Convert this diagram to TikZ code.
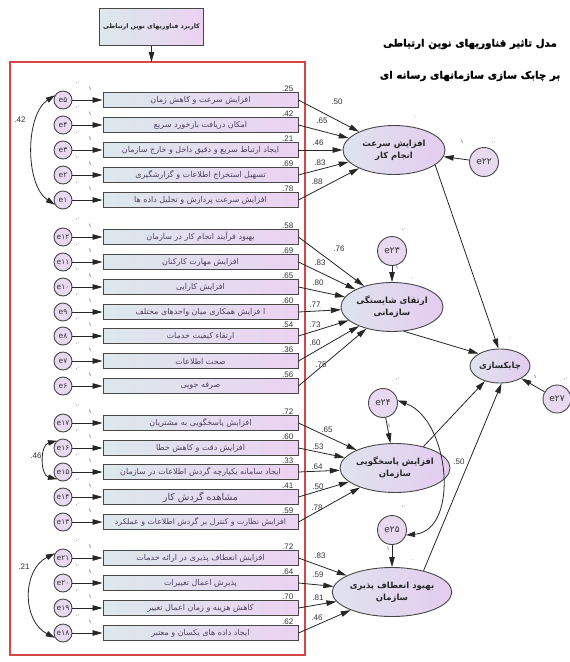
\documentclass[tikz,border=0pt]{standalone}
\usepackage{fontspec}
\setmainfont{Liberation Sans}
\newfontfamily\arabicfont[Script=Arabic]{DejaVu Sans}
\newfontfamily\titlefont[Script=Arabic,BoldFeatures={FakeBold=1.6}]{DejaVu Sans}
\TeXXeTstate=1
\usetikzlibrary{arrows.meta,shapes.geometric}
\definecolor{boxL}{HTML}{DCE8EC}
\definecolor{boxR}{HTML}{EBD2F2}
\definecolor{ellL}{HTML}{DFE3EE}
\definecolor{ellR}{HTML}{E4CCEF}
\definecolor{circ}{HTML}{E8D8F0}
\definecolor{edgec}{HTML}{474747}
\definecolor{redb}{HTML}{D64548}
\definecolor{txt}{HTML}{4E4060}
\tikzset{
  ind/.style={draw=edgec, line width=0.9pt, left color=boxL, right color=boxR,
    minimum width=195pt, minimum height=15pt, inner sep=0pt,
    font=\arabicfont\fontsize{8}{9}\selectfont, text=txt},
  err/.style={circle, draw=edgec, line width=0.9pt, fill=circ, minimum size=18pt, inner sep=0pt,
    path picture={\node[font=\fontsize{7.5}{8}\selectfont, text=black!80] at (path picture bounding box.center) {\arabicfont #1};}},
  bigerr/.style={circle, draw=edgec, line width=0.9pt, fill=circ, minimum size=29pt, inner sep=0pt,
    font=\arabicfont\fontsize{9}{10}\selectfont, text=black!80},
  lat/.style={ellipse, draw=edgec, line width=0.9pt, left color=ellL, right color=ellR,
    minimum width=102pt, minimum height=49pt, inner sep=0pt, align=center,
    font=\arabicfont\bfseries\fontsize{8.5}{12}\selectfont, text=black!85},
  arr/.style={-{Triangle[length=10pt,width=5.5pt]}, line width=0.8pt, black!85},
  darr/.style={{Triangle[length=9pt,width=5.5pt]}-{Triangle[length=9pt,width=5.5pt]}, line width=0.8pt, black!85},
  lab/.style={font=\fontsize{8}{9}\selectfont, text=black!80, inner sep=0.5pt},
  onelab/.style={font=\arabicfont\fontsize{5.5}{6}\selectfont, text=black!80, inner sep=0pt},
  dotlab/.style={font=\arabicfont\fontsize{5}{6}\selectfont, text=black!70, inner sep=0pt},
  ttl/.style={font=\titlefont\bfseries\fontsize{10.3}{12}\selectfont, inner sep=0pt},
}
% name, y, text, r2, errname, errlabel
\newcommand{\indrow}[6]{%
  \node[ind] (#1) at (200.5,#2) {#3};
  \node[lab, anchor=south east] at (294,#2-7.5) {#4};
  \node[err={#6}] (#5) at (63,#2) {};
  \draw[arr] (#5) -- (#1.west);
  \node[onelab] at (90,#2-11) {۱};
  \node[dotlab] at (77,#2-17) {\beginR ۰، \endR};
}
\begin{document}
\begin{tikzpicture}[x=1pt,y=-1pt]
\useasboundingbox (0,0) rectangle (570,662);
\fill[white] (0,0) rectangle (570,662);

% title
\node[ttl] (t1) at (470,44) {\beginR مدل تاثیر فناوریهای نوین ارتباطی\endR};
\node[ttl] (t2) at (470,76) {\beginR بر چابک سازی سازمانهای رسانه ای\endR};

% top box and frame
\node[draw=edgec, line width=0.9pt, left color=boxL, right color=boxR, minimum width=103pt, minimum height=37pt,
  font=\arabicfont\bfseries\fontsize{6.3}{7}\selectfont, text=black!85] (top) at (151.5,27) {\beginR کاربرد فناوریهای نوین ارتباطی\endR};
\draw[redb, line width=1.2pt] (10,62) rectangle (305,655);
\coordinate (redtop) at (151.5,62);
\draw[arr] (top) -- (redtop);

% latent variables
\node[lat] (L1) at (394,150) {\beginR افزایش سرعت\endR\\\beginR انجام کار\endR};
\node[lat] (L2) at (392,307) {\beginR ارتقای شایستگی\endR\\\beginR سازمانی\endR};
\node[lat] (L3) at (395,468) {\beginR افزایش پاسخگویی\endR\\\beginR سازمان\endR};
\node[lat] (L4) at (392,592) {\beginR بهبود انعطاف پذیری\endR\\\beginR سازمان\endR};
\node[lat, minimum width=60pt, minimum height=34pt] (Ag) at (500,366) {\beginR چابکسازی\endR};

\node[bigerr] (e22) at (484,162) {e۲۲};
\node[bigerr] (e23) at (392,251) {e۲۳};
\node[bigerr] (e24) at (383,403) {e۲۴};
\node[bigerr] (e25) at (392,530) {e۲۵};
\node[bigerr, minimum size=28pt] (e27) at (557,399) {e۲۷};

% group 1
\indrow{a1}{100}{\beginR افزایش سرعت و کاهش زمان\endR}{.25}{e5}{e۵}
\indrow{a2}{125}{\beginR امکان دریافت بازخورد سریع\endR}{.42}{e4}{e۴}
\indrow{a3}{150}{\beginR ایجاد ارتباط سریع و دقیق داخل و خارج سازمان\endR}{.21}{e3}{e۳}
\indrow{a4}{175}{\beginR تسهیل استخراج اطلاعات و گزارشگیری\endR}{.69}{e2}{e۲}
\indrow{a5}{200}{\beginR افزایش سرعت پردازش و تحلیل داده ها\endR}{.78}{e1}{e۱}
% group 2
\indrow{b1}{237}{\beginR بهبود فرآیند انجام کار در سازمان\endR}{.58}{e12}{e۱۲}
\indrow{b2}{262}{\beginR افزایش مهارت کارکنان\endR}{.69}{e11}{e۱۱}
\indrow{b3}{287}{\beginR افزایش کارایی\endR}{.65}{e10}{e۱۰}
\indrow{b4}{312}{\beginR ا فزایش همکاری میان واحدهای مختلف\endR}{.60}{e9}{e۹}
\indrow{b5}{336}{\beginR ارتقاء کیفیت خدمات\endR}{.54}{e8}{e۸}
\indrow{b6}{361}{\beginR صحت اطلاعات\endR}{.36}{e7}{e۷}
\indrow{b7}{386}{\beginR صرفه جویی\endR}{.56}{e6}{e۶}
% group 3
\indrow{c1}{423}{\beginR افزایش پاسخگویی به مشتریان\endR}{.72}{e17}{e۱۷}
\indrow{c2}{448}{\beginR افزایش دقت و کاهش خطا\endR}{.60}{e16}{e۱۶}
\indrow{c3}{472}{\beginR ایجاد سامانه یکپارچه گردش اطلاعات در سازمان\endR}{.33}{e15}{e۱۵}
\indrow{c4}{497}{\fontsize{9.5}{10}\selectfont\beginR مشاهده گردش کار\endR}{.41}{e14}{e۱۴}
\indrow{c5}{522}{\fontsize{7.8}{9}\selectfont\beginR افزایش نظارت و کنترل بر گردش اطلاعات و عملکرد\endR}{.59}{e13}{e۱۳}
% group 4
\indrow{d1}{558}{\beginR افزایش انعطاف پذیری در ارائه خدمات\endR}{.72}{e21}{e۲۱}
\indrow{d2}{583}{\beginR پذیرش اعمال تغییرات\endR}{.64}{e20}{e۲۰}
\indrow{d3}{608}{\beginR کاهش هزینه و زمان اعمال تغییر\endR}{.70}{e19}{e۱۹}
\indrow{d4}{633}{\beginR ایجاد داده های یکسان و معتبر\endR}{.62}{e18}{e۱۸}

% loadings
\foreach \n/\l in {a1/L1,a2/L1,a3/L1,a4/L1,a5/L1,b1/L2,b2/L2,b3/L2,b4/L2,b5/L2,b6/L2,b7/L2,
  c1/L3,c2/L3,c3/L3,c4/L3,c5/L3,d1/L4,d2/L4,d3/L4,d4/L4}
  \draw[arr] (\n.east) -- (\l);
\node[lab] at (337,102) {.50};
\node[lab] at (322,121) {.65};
\node[lab] at (318,143) {.46};
\node[lab] at (320,163) {.83};
\node[lab] at (317,182) {.88};
\node[lab] at (339,249) {.76};
\node[lab] at (320,263) {.83};
\node[lab] at (318,283) {.80};
\node[lab] at (315,305) {.77};
\node[lab] at (315,325) {.73};
\node[lab] at (315,343) {.60};
\node[lab] at (321,365) {.75};
\node[lab] at (327,430) {.65};
\node[lab] at (318,447) {.53};
\node[lab] at (317,467) {.64};
\node[lab] at (318,487) {.50};
\node[lab] at (317,508) {.78};
\node[lab] at (320,556) {.83};
\node[lab] at (318,575) {.59};
\node[lab] at (318,598) {.81};
\node[lab] at (317,618) {.46};

% covariances among errors
\draw[darr] (e5.150) .. controls (25,115) and (25,185) .. (e1.210);
\node[lab] at (20,120) {.42};
\draw[darr] (e16.130) .. controls (40,445) and (40,475) .. (e15.230);
\node[lab] at (36,456) {.46};
\draw[darr] (e21.150) .. controls (22,570) and (22,621) .. (e18.210);
\node[lab] at (24,567) {.21};

% structural paths
\draw[arr] (L1.-20) -- (Ag.95);
\draw[arr] (L2.-64) -- (Ag.150);
\draw[arr] (L3.37) -- (Ag.-135);
\draw[arr] (L4.34) -- (Ag.-85);
\draw[arr] (e22) -- (L1);
\draw[arr] (e23) -- (L2);
\draw[arr] (e24) -- (L3);
\draw[arr] (e25) -- (L4);
\draw[arr] (e27) -- (Ag);
\draw[darr] (e24.10) .. controls (450,420) and (460,530) .. (e25.-20);
\node[lab] at (459,462) {.50};

\node[onelab] at (462,142) {۱};
\node[onelab] at (397,268) {۱};
\node[onelab] at (389,426) {۱};
\node[onelab] at (388,549) {۱};
\node[onelab] at (535,377) {۱};
\node[dotlab] at (493,143) {\beginR ۰، \endR};
\node[dotlab] at (403,230) {\beginR ۰، \endR};
\node[dotlab] at (397,380) {\beginR ۰، \endR};
\node[dotlab] at (403,507) {\beginR ۰، \endR};
\node[dotlab] at (565,380) {\beginR ۰، \endR};
\node[dotlab] at (416,117) {.};
\node[dotlab] at (413,278) {.};
\node[dotlab] at (510,338) {.};
\node[dotlab] at (413,560) {.};
\end{tikzpicture}
\end{document}
